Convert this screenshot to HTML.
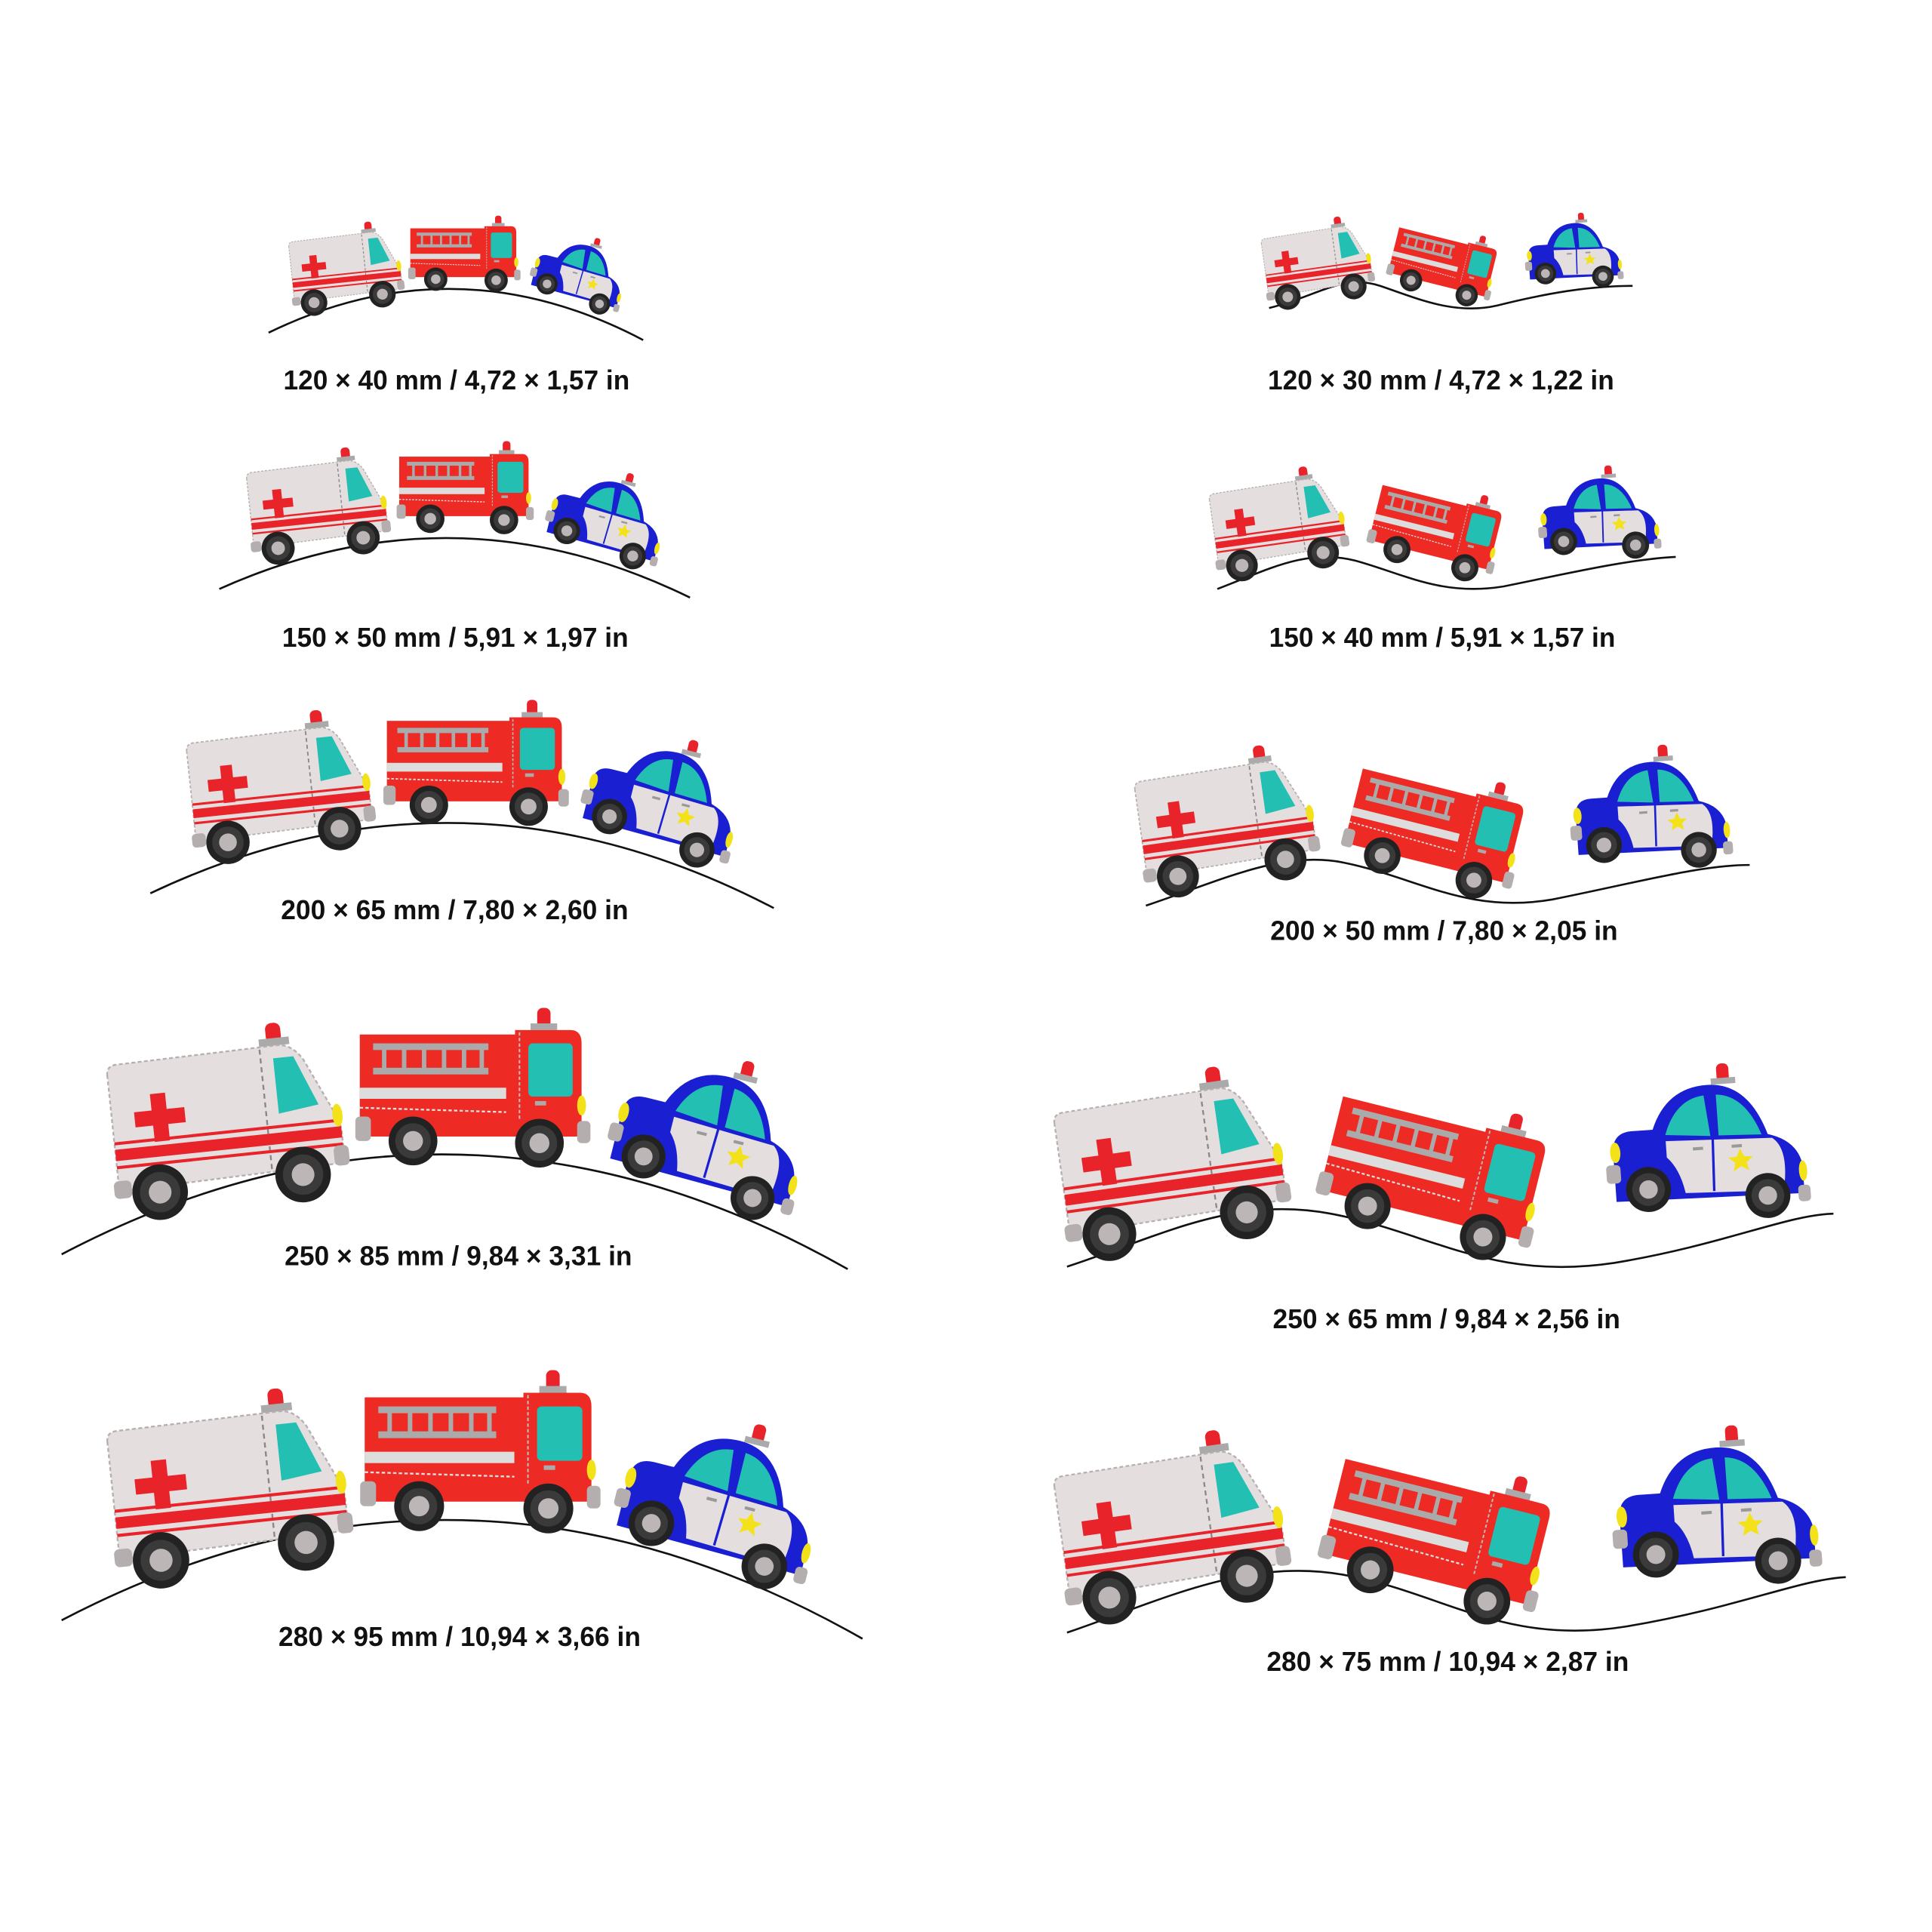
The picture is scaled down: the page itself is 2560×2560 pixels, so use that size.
<!DOCTYPE html>
<html><head><meta charset="utf-8"><style>
html,body{margin:0;padding:0;background:#fff;}
svg{display:block;}
text{font-family:"Liberation Sans",Arial,sans-serif;font-weight:bold;font-size:22px;fill:#111;}
</style></head><body>
<svg width="2560" height="2560" viewBox="0 0 1568 1568" xmlns="http://www.w3.org/2000/svg">
<defs>
<g id="wh"><circle r="11" fill="#222"/><circle r="8" fill="#3a3a3a"/><circle r="4.5" fill="#bdb6b6"/></g>
<g id="amb">
 <rect x="66" y="0" width="6" height="8" rx="2.5" fill="#e8232a"/>
 <rect x="63" y="6" width="12" height="3" fill="#aaa"/>
 <path d="M2,14 Q2,10 6,10 L70,9 Q76,9 80,16 L90,38 Q92,42 92,46 L92,58 L2,60 Z" fill="#e4dede" stroke="#b8b0b0" stroke-width="0.7" stroke-dasharray="1.5 1"/>
 <path d="M68,14 L76,14 L84,34 L68,36 Z" fill="#22bfb2"/>
 <line x1="63" y1="10" x2="63" y2="58" stroke="#888" stroke-width="0.7" stroke-dasharray="2 1.5"/>
 <rect x="18" y="23" width="6" height="19" fill="#e8232a"/>
 <rect x="11" y="29.5" width="20" height="6" fill="#e8232a"/>
 <rect x="2" y="40.5" width="90" height="1.2" fill="#e8232a"/>
 <rect x="2" y="43.5" width="90" height="4.5" fill="#e8232a"/>
 <rect x="2" y="50" width="90" height="1.2" fill="#e8232a"/>
 <ellipse cx="91" cy="39" rx="2" ry="4.5" fill="#f3e21a"/>
 <rect x="0" y="56" width="7" height="7" rx="2" fill="#b5aeae"/>
 <rect x="88" y="51" width="6" height="8" rx="2" fill="#b5aeae"/>
 <use href="#wh" x="18" y="62"/><use href="#wh" x="75" y="61"/>
</g>
<g id="trk">
 <rect x="80" y="0" width="6" height="9" rx="2.5" fill="#e8232a"/>
 <rect x="77" y="7" width="12" height="3" fill="#aaa"/>
 <rect x="0" y="12" width="72" height="46" fill="#ee2a24"/>
 <path d="M70,10 L95,10 Q100,10 100,16 L100,58 L70,58 Z" fill="#ee2a24"/>
 <line x1="72" y1="11" x2="72" y2="50" stroke="#bbb" stroke-width="0.7" stroke-dasharray="1.5 1"/>
 <rect x="76" y="16" width="20" height="24" rx="2" fill="#22bfb2"/>
 <rect x="6" y="16" width="52" height="3" fill="#aaa"/>
 <rect x="6" y="27" width="52" height="3" fill="#aaa"/>
 <g fill="#aaa"><rect x="10" y="18" width="2" height="10"/><rect x="19" y="18" width="2" height="10"/><rect x="28" y="18" width="2" height="10"/><rect x="37" y="18" width="2" height="10"/><rect x="46" y="18" width="2" height="10"/><rect x="54" y="18" width="2" height="10"/></g>
 <rect x="0" y="36" width="66" height="5" fill="#ddd"/>
 <line x1="0" y1="45" x2="66" y2="47" stroke="#ddd" stroke-width="0.8" stroke-dasharray="1.5 1"/>
 <rect x="79" y="42" width="5" height="2" fill="#aaa"/>
 <ellipse cx="100" cy="44" rx="2" ry="4.5" fill="#f3e21a"/>
 <rect x="-2" y="49" width="7" height="11" rx="2" fill="#b5aeae"/>
 <rect x="98" y="51" width="6" height="10" rx="2" fill="#b5aeae"/>
 <use href="#wh" x="24" y="60"/><use href="#wh" x="81" y="61"/>
</g>
<g id="pol">
 <rect x="57" y="0" width="6" height="9" rx="2.5" fill="#e8232a"/>
 <rect x="54" y="7" width="12" height="3" fill="#aaa"/>
 <path d="M4,40 Q4,30 14,30 L24,30 Q32,10 52,10 Q72,10 80,36 Q94,40 96,52 L96,66 L4,64 Z" fill="#1a20d2"/>
 <path d="M30,36 L82,38 Q90,44 86,64 L38,62 Q36,50 30,44 Z" fill="#e4dede"/>
 <path d="M30,33 Q36,16 50,15 L52,35 Z" fill="#22bfb2"/>
 <path d="M56,15 Q70,16 77,36 L56,35 Z" fill="#22bfb2"/>
 <line x1="54" y1="12" x2="52" y2="62" stroke="#1a20d2" stroke-width="1.2"/>
 <polygon points="66,42 67.8,46 72,46.3 68.8,49 69.8,53 66,50.8 62.2,53 63.2,49 60,46.3 64.2,46" fill="#f3e21a"/>
 <rect x="43" y="40" width="5" height="1.5" fill="#999"/><rect x="62" y="40" width="5" height="1.5" fill="#999"/>
 <ellipse cx="5" cy="40" rx="2.5" ry="5" fill="#f3e21a"/>
 <ellipse cx="96" cy="55" rx="2" ry="5" fill="#f3e21a"/>
 <rect x="0" y="46" width="7" height="9" rx="2" fill="#b5aeae"/>
 <rect x="93" y="62" width="6" height="8" rx="2" fill="#b5aeae"/>
 <use href="#wh" x="20" y="59"/><use href="#wh" x="78" y="66"/>
</g>
</defs>
<g fill="none" stroke="#111" stroke-width="1.6">
 <path d="M218,270 Q370,196 522,276"/>
 <path d="M178,478 Q370,392 560,485"/>
 <path d="M122,725 Q375,605 628,737"/>
 <path d="M50,1018 Q370,850 688,1030"/>
 <path d="M50,1315 Q375,1145 700,1330"/>
 <path d="M1030,250 C1070,240 1090,222 1120,232 C1150,242 1180,256 1215,248 C1255,238 1290,232 1325,232"/>
 <path d="M988,478 C1030,462 1060,445 1100,455 C1140,466 1170,484 1220,476 C1270,466 1320,454 1360,452"/>
 <path d="M930,735 C990,715 1040,690 1090,700 C1150,712 1190,742 1260,730 C1330,716 1380,702 1420,702"/>
 <path d="M866,1028 C940,1004 1000,970 1080,985 C1160,1000 1210,1040 1310,1025 C1400,1010 1450,986 1488,985"/>
 <path d="M866,1325 C940,1300 1010,1264 1090,1278 C1170,1292 1220,1336 1320,1320 C1410,1305 1460,1282 1498,1280"/>
</g>
<use href="#amb" transform="translate(231,187) rotate(-6) scale(0.98)"/>
<use href="#trk" transform="translate(333,175) scale(0.86)"/>
<use href="#pol" transform="translate(440,182) rotate(14) scale(0.78)"/>

<use href="#amb" transform="translate(196,372) rotate(-6) scale(1.22)"/>
<use href="#trk" transform="translate(324,358) scale(1.05)"/>
<use href="#pol" transform="translate(455,370) rotate(14) scale(0.98)"/>

<use href="#amb" transform="translate(146,588) rotate(-6) scale(1.6)"/>
<use href="#trk" transform="translate(314,568) scale(1.42)"/>
<use href="#pol" transform="translate(488,582) rotate(14) scale(1.3)"/>

<use href="#amb" transform="translate(80,845) rotate(-6) scale(2.05)"/>
<use href="#trk" transform="translate(292,818) scale(1.8)"/>
<use href="#pol" transform="translate(514,838) rotate(14) scale(1.62)"/>

<use href="#amb" transform="translate(80,1142) rotate(-6) scale(2.08)"/>
<use href="#trk" transform="translate(296,1112) scale(1.84)"/>
<use href="#pol" transform="translate(520,1132) rotate(14) scale(1.68)"/>

<use href="#amb" transform="translate(1020,185) rotate(-8) scale(0.95)"/>
<use href="#trk" transform="translate(1138,175) rotate(14) scale(0.82)"/>
<use href="#pol" transform="translate(1235,176) rotate(-4) scale(0.8)"/>

<use href="#amb" transform="translate(977,390) rotate(-8) scale(1.17)"/>
<use href="#trk" transform="translate(1125,382) rotate(14) scale(1.0)"/>
<use href="#pol" transform="translate(1245,382) rotate(-4) scale(1.0)"/>

<use href="#amb" transform="translate(915,620) rotate(-8) scale(1.55)"/>
<use href="#trk" transform="translate(1110,608) rotate(14) scale(1.35)"/>
<use href="#pol" transform="translate(1270,610) rotate(-4) scale(1.32)"/>

<use href="#amb" transform="translate(848,885) rotate(-8) scale(1.98)"/>
<use href="#trk" transform="translate(1095,870) rotate(14) scale(1.7)"/>
<use href="#pol" transform="translate(1298,870) rotate(-4) scale(1.66)"/>

<use href="#amb" transform="translate(848,1180) rotate(-8) scale(1.98)"/>
<use href="#trk" transform="translate(1097,1164) rotate(14) scale(1.72)"/>
<use href="#pol" transform="translate(1303,1164) rotate(-4) scale(1.7)"/>

<text x="230" y="316" textLength="281" lengthAdjust="spacingAndGlyphs">120 × 40 mm / 4,72 × 1,57 in</text>
<text x="229" y="525" textLength="281" lengthAdjust="spacingAndGlyphs">150 × 50 mm / 5,91 × 1,97 in</text>
<text x="228" y="746" textLength="282" lengthAdjust="spacingAndGlyphs">200 × 65 mm / 7,80 × 2,60 in</text>
<text x="231" y="1027" textLength="282" lengthAdjust="spacingAndGlyphs">250 × 85 mm / 9,84 × 3,31 in</text>
<text x="226" y="1336" textLength="294" lengthAdjust="spacingAndGlyphs">280 × 95 mm / 10,94 × 3,66 in</text>
<text x="1029" y="316" textLength="281" lengthAdjust="spacingAndGlyphs">120 × 30 mm / 4,72 × 1,22 in</text>
<text x="1030" y="525" textLength="281" lengthAdjust="spacingAndGlyphs">150 × 40 mm / 5,91 × 1,57 in</text>
<text x="1031" y="763" textLength="282" lengthAdjust="spacingAndGlyphs">200 × 50 mm / 7,80 × 2,05 in</text>
<text x="1033" y="1078" textLength="282" lengthAdjust="spacingAndGlyphs">250 × 65 mm / 9,84 × 2,56 in</text>
<text x="1028" y="1356" textLength="294" lengthAdjust="spacingAndGlyphs">280 × 75 mm / 10,94 × 2,87 in</text>
</svg>
</body></html>
